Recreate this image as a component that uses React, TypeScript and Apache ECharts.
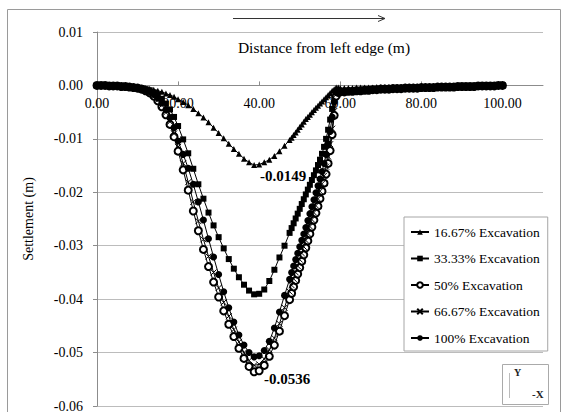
import React, { useEffect, useRef } from "react";
import * as echarts from "echarts";

const FONT = "Liberation Serif, Times New Roman, serif";

// Distance from left edge (m)
const distance = [
  0, 1, 2, 3, 4, 5, 6, 7, 8, 9, 10, 11, 12, 13, 14, 15, 16, 17, 18, 19, 20,
  21.25, 22.5, 23.75, 25, 26.25, 27.5, 28.75, 30, 31.25, 32.5, 33.75, 35, 36.25, 37.5, 38.75, 40, 41.25, 42.5, 43.75, 45, 46.25, 47.5,
  48, 48.5, 49, 49.5, 50, 50.5, 51, 51.5, 52, 52.5, 53, 53.5, 54, 54.5, 55, 55.5, 56, 56.5, 57, 57.5, 58, 58.5, 59, 59.5, 60,
  61, 62, 63, 64, 65, 66, 67, 68, 69, 70, 71, 72, 73, 74, 75, 76, 77, 78, 79, 80,
  81, 82, 83, 84, 85, 86, 87, 88, 89, 90, 91, 92, 93, 94, 95, 96, 97, 98, 99, 100,
];

// Settlement (m) for 16.67% excavation
const settle1667Left = [0, 0, 0, 0, -0.0001, -0.0001, -0.0001, -0.0002, -0.0002, -0.0003, -0.0003, -0.0004, -0.0005, -0.0006, -0.0008, -0.001, -0.0012, -0.0015, -0.0018, -0.0021, -0.0026];
const settle1667Mid = [-0.0031, -0.0037, -0.0044, -0.0052, -0.006, -0.0069, -0.0079, -0.0089, -0.0099, -0.0109, -0.0119, -0.0128, -0.0137, -0.0144, -0.0149, -0.0148, -0.0144, -0.0139, -0.0132, -0.0123, -0.0113, -0.0102];
const settle1667Wall = [-0.0098, -0.0093, -0.0088, -0.0083, -0.0078, -0.0073, -0.0068, -0.0063, -0.0059, -0.0055, -0.005, -0.0046, -0.0042, -0.0038, -0.0034, -0.003, -0.0026, -0.0022, -0.0018, -0.0014, -0.001, -0.0007, -0.0004, -0.0004, -0.0005];
const settle1667Right = [
  -0.0005, -0.0005, -0.0005, -0.0004, -0.0004, -0.0004, -0.0004, -0.0004, -0.0003, -0.0003,
  -0.0003, -0.0003, -0.0003, -0.0003, -0.0003, -0.0002, -0.0002, -0.0002, -0.0002, -0.0002,
  -0.0002, -0.0002, -0.0002, -0.0001, -0.0001, -0.0001, -0.0001, -0.0001, -0.0001, -0.0001,
  -0.0001, -0.0001, -0.0001, -0.0001, -0.0001, 0, 0, 0, 0, 0,
];

// Right-side tail for the deeper stages (61..100 m)
const settleDeepRight = [
  -0.0012, -0.0011, -0.0011, -0.001, -0.001, -0.0009, -0.0009, -0.0008, -0.0008, -0.0007,
  -0.0007, -0.0007, -0.0006, -0.0006, -0.0006, -0.0005, -0.0005, -0.0005, -0.0005, -0.0004,
  -0.0004, -0.0004, -0.0004, -0.0003, -0.0003, -0.0003, -0.0003, -0.0003, -0.0002, -0.0002,
  -0.0002, -0.0002, -0.0002, -0.0001, -0.0001, -0.0001, -0.0001, -0.0001, 0, 0,
];

// 33.33% excavation
const settle3333Left = [0, 0, 0, 0, -0.0001, -0.0001, -0.0001, -0.0002, -0.0002, -0.0003, -0.0004, -0.0005, -0.0007, -0.0009, -0.0013, -0.0018, -0.0025, -0.0034, -0.0045, -0.0059, -0.0076];
const settle3333Mid = [-0.0101, -0.0127, -0.0156, -0.0185, -0.0212, -0.0238, -0.0262, -0.0284, -0.0305, -0.0325, -0.0343, -0.0359, -0.0373, -0.0384, -0.0391, -0.039, -0.0382, -0.0366, -0.0345, -0.0322, -0.03, -0.0276];
const settle3333Wall = [-0.0267, -0.0258, -0.0249, -0.024, -0.0231, -0.0222, -0.0213, -0.0204, -0.0195, -0.0186, -0.0177, -0.0168, -0.0159, -0.0149, -0.0139, -0.0128, -0.0115, -0.01, -0.0083, -0.0064, -0.0044, -0.0025, -0.0012, -0.0011, -0.0012];

// 50% excavation
const settle50Left = [0, 0, 0, -0.0001, -0.0001, -0.0001, -0.0002, -0.0002, -0.0003, -0.0004, -0.0005, -0.0007, -0.001, -0.0014, -0.002, -0.0029, -0.004, -0.0055, -0.0073, -0.0096, -0.0123];
const settle50Mid = [-0.0158, -0.0196, -0.0235, -0.0272, -0.0307, -0.0339, -0.0368, -0.0396, -0.0422, -0.0447, -0.047, -0.0492, -0.0511, -0.0526, -0.0536, -0.0534, -0.0524, -0.0507, -0.0486, -0.046, -0.0431, -0.0401];
const settle50Wall = [-0.0389, -0.0377, -0.0365, -0.0353, -0.0341, -0.0329, -0.0317, -0.0304, -0.0291, -0.0278, -0.0265, -0.0252, -0.0239, -0.0226, -0.0212, -0.0198, -0.0183, -0.0166, -0.0146, -0.0122, -0.0092, -0.0056, -0.002, -0.0013, -0.0012];

// 66.67% excavation
const settle6667Left = [0, 0, 0, -0.0001, -0.0001, -0.0001, -0.0002, -0.0002, -0.0003, -0.0004, -0.0005, -0.0007, -0.001, -0.0013, -0.0019, -0.0027, -0.0037, -0.0051, -0.0068, -0.009, -0.0115];
const settle6667Mid = [-0.0146, -0.0181, -0.0218, -0.0254, -0.0288, -0.032, -0.035, -0.0379, -0.0406, -0.0432, -0.0457, -0.048, -0.05, -0.0515, -0.0524, -0.0522, -0.0512, -0.0495, -0.0473, -0.0446, -0.0416, -0.0386];
const settle6667Wall = [-0.0374, -0.0362, -0.035, -0.0338, -0.0326, -0.0314, -0.0302, -0.029, -0.0277, -0.0264, -0.0251, -0.0238, -0.0225, -0.0212, -0.0198, -0.0184, -0.0169, -0.0152, -0.0133, -0.011, -0.0081, -0.0048, -0.0017, -0.0012, -0.0012];

// 100% excavation
const settle100Left = [0, 0, 0, -0.0001, -0.0001, -0.0001, -0.0002, -0.0002, -0.0003, -0.0004, -0.0005, -0.0007, -0.0009, -0.0012, -0.0017, -0.0024, -0.0033, -0.0045, -0.006, -0.0079, -0.0104];
const settle100Mid = [-0.0129, -0.0155, -0.0185, -0.0218, -0.0252, -0.0287, -0.0321, -0.0354, -0.0386, -0.0416, -0.0443, -0.0467, -0.0486, -0.05, -0.0508, -0.0506, -0.0496, -0.0479, -0.0454, -0.0424, -0.0393, -0.0363];
const settle100Wall = [-0.035, -0.0338, -0.0326, -0.0314, -0.0302, -0.029, -0.0278, -0.0266, -0.0253, -0.024, -0.0227, -0.0214, -0.0201, -0.0188, -0.0175, -0.0161, -0.0146, -0.0129, -0.0109, -0.0086, -0.0059, -0.0031, -0.0013, -0.0012, -0.0012];

const seriesNames = ["16.67% Excavation", "33.33% Excavation", "50% Excavation", "66.67% Excavation", "100% Excavation"];
const xTicks = [0, 20, 40, 60, 80, 100];
const peakLabels = ["-0.0149", "-0.0536"];
const peakAt = [38.75, 38.75];
const peakVal = [-0.0149, -0.0536];

const Y_MIN = -0.06;
const Y_MAX = 0.01;

function toPairs(ys: number[]) {
  return distance.map((x, i) => [x, ys[i]]);
}

export default function App() {
  const ref = useRef<HTMLDivElement>(null);
  useEffect(() => {
    if (!ref.current) return;
    const chart = echarts.init(ref.current, undefined, { renderer: "svg" });
    const s1 = toPairs([...settle1667Left, ...settle1667Mid, ...settle1667Wall, ...settle1667Right]);
    const s2 = toPairs([...settle3333Left, ...settle3333Mid, ...settle3333Wall, ...settleDeepRight]);
    const s3 = toPairs([...settle50Left, ...settle50Mid, ...settle50Wall, ...settleDeepRight]);
    const s4 = toPairs([...settle6667Left, ...settle6667Mid, ...settle6667Wall, ...settleDeepRight]);
    const s5 = toPairs([...settle100Left, ...settle100Mid, ...settle100Wall, ...settleDeepRight]);

    const gridTop = 32;
    const gridBottom = 6;
    const gridH = 412 - gridTop - gridBottom;
    // place the x axis at value 0 of the y axis
    const zeroOffset = -gridH * (0 - Y_MIN) / (Y_MAX - Y_MIN);

    const base = {
      type: "line" as const,
      showAllSymbol: true,
      lineStyle: { color: "#000", width: 1 },
      emphasis: { disabled: true },
    };
    const annLabel = (text: string, offset: number[]) => ({
      show: true,
      formatter: text,
      offset,
      fontFamily: FONT,
      fontWeight: "bold" as const,
      fontSize: 15,
      color: "#000",
    });

    chart.setOption({
      animation: false,
      backgroundColor: "#fff",
      grid: { left: 97, right: 25, top: gridTop, bottom: gridBottom, containLabel: false, outerBoundsMode: "none" },
      xAxis: {
        type: "value",
        min: 0,
        max: 110,
        interval: 20,
        position: "bottom",
        offset: zeroOffset,
        axisLine: { onZero: false, lineStyle: { color: "#8c8c8c", width: 1 } },
        axisTick: { show: true, inside: true, length: 4, customValues: xTicks, lineStyle: { color: "#8c8c8c" } },
        axisLabel: {
          customValues: xTicks,
          formatter: (v: number) => v.toFixed(2),
          fontFamily: FONT,
          fontSize: 14,
          color: "#000",
          margin: 11,
        },
        splitLine: { show: false },
      },
      yAxis: {
        type: "value",
        min: Y_MIN,
        max: Y_MAX,
        interval: 0.01,
        name: "Settlement (m)",
        nameLocation: "middle",
        nameGap: 62,
        nameTextStyle: { fontFamily: FONT, fontSize: 14, color: "#000" },
        axisLine: { show: true, onZero: false, lineStyle: { color: "#8c8c8c", width: 1 } },
        axisTick: { show: true, length: 4, lineStyle: { color: "#8c8c8c" } },
        axisLabel: {
          formatter: (v: number) => (Math.abs(v) < 1e-9 ? "0.00" : v.toFixed(2)),
          fontFamily: FONT,
          fontSize: 14,
          color: "#000",
          margin: 14,
        },
        splitLine: { show: true, lineStyle: { color: "#bcbcbc", width: 1 } },
      },
      legend: {
        orient: "vertical",
        left: 404,
        top: 217,
        padding: [8, 8, 6, 6],
        itemWidth: 18,
        itemHeight: 7,
        itemGap: 12.5,
        backgroundColor: "#fff",
        borderColor: "#a6a6a6",
        borderWidth: 1,
        textStyle: { fontFamily: FONT, fontSize: 13.5, color: "#000" },
        data: seriesNames,
      },
      series: [
        {
          ...base,
          name: seriesNames[0],
          data: s1,
          symbol: "triangle",
          symbolSize: 6,
          itemStyle: { color: "#000" },
          markPoint: {
            symbol: "circle",
            symbolSize: 0,
            data: [{ coord: [peakAt[0], peakVal[0]] }],
            label: annLabel(peakLabels[0], [29, 11]),
          },
        },
        {
          ...base,
          name: seriesNames[1],
          data: s2,
          symbol: "rect",
          symbolSize: 6,
          itemStyle: { color: "#000" },
        },
        {
          ...base,
          name: seriesNames[2],
          data: s3,
          symbol: "emptyCircle",
          symbolSize: 7,
          itemStyle: { color: "#000", borderColor: "#000", borderWidth: 1 },
          markPoint: {
            symbol: "circle",
            symbolSize: 0,
            data: [{ coord: [peakAt[1], peakVal[1]] }],
            label: annLabel(peakLabels[1], [33, 7]),
          },
        },
        {
          ...base,
          name: seriesNames[3],
          data: s4,
          symbol: "path://M0,0L10,10M10,0L0,10",
          symbolSize: 6,
          itemStyle: { color: "#000", borderColor: "#000", borderWidth: 1 },
        },
        {
          ...base,
          name: seriesNames[4],
          data: s5,
          symbol: "circle",
          symbolSize: 7,
          itemStyle: { color: "#000" },
        },
      ],
      graphic: [
        {
          type: "rect",
          silent: true,
          z: -10,
          shape: { x: 7.5, y: 9.5, width: 553, height: 420 },
          style: { fill: "none", stroke: "#9a9a9a", lineWidth: 1 },
        },
        {
          type: "line",
          silent: true,
          shape: { x1: 233, y1: 18.5, x2: 385, y2: 18.5 },
          style: { stroke: "#333", lineWidth: 1 },
        },
        {
          type: "polyline",
          silent: true,
          shape: { points: [[378, 15.5], [385, 18.5], [378, 21.5]] },
          style: { stroke: "#333", lineWidth: 1, fill: "none" },
        },
        {
          type: "text",
          silent: true,
          x: 324,
          y: 47,
          style: {
            text: "Distance from left edge (m)",
            fontFamily: FONT,
            fontSize: 15.5,
            fill: "#000",
            align: "center",
            verticalAlign: "middle",
          },
        },
        {
          type: "rect",
          silent: true,
          shape: { x: 502.5, y: 364.5, width: 46, height: 40 },
          style: { fill: "#fff", stroke: "#aaa", lineWidth: 1 },
          z: 100,
        },
        {
          type: "line",
          silent: true,
          shape: { x1: 509.5, y1: 373, x2: 509.5, y2: 398 },
          style: { stroke: "#bbb", lineWidth: 1 },
          z: 101,
        },
        {
          type: "text",
          silent: true,
          x: 514,
          y: 367,
          style: { text: "Y", fontFamily: FONT, fontSize: 10, fontWeight: "bold", fill: "#222" },
          z: 101,
        },
        {
          type: "text",
          silent: true,
          x: 532,
          y: 388,
          style: { text: "-X", fontFamily: FONT, fontSize: 11, fontWeight: "bold", fill: "#222" },
          z: 101,
        },
      ],
    });
    return () => chart.dispose();
  }, []);
  return (
    <div
      ref={ref}
      style={{ position: "fixed", left: 0, top: 0, width: 568, height: 412 }}
    />
  );
}
